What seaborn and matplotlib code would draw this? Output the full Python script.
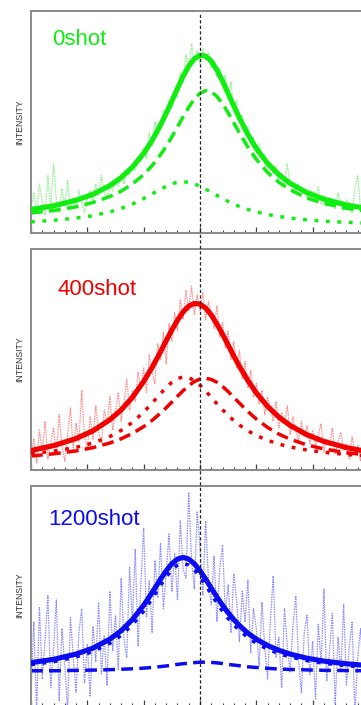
import numpy as np
import pandas as pd
import matplotlib
matplotlib.use("Agg")
import matplotlib.pyplot as plt
import seaborn as sns
from matplotlib.lines import Line2D
from matplotlib.ticker import MultipleLocator

sns.set_style("white")
plt.rcParams['font.family'] = ['Liberation Sans', 'DejaVu Sans']

# ---------------- data ----------------
PANEL_LABELS = ["0shot", "400shot", "1200shot"]
MAIN_COLORS = ["#10ee10", "#f20000", "#0c0cf0"]
NOISE_COLORS = ["#8ef08e", "#ff8c8c", "#8c8cff"]

# x positions of the fitted curves
FIT_X = [-3.0, -2.6, -2.2, -1.9, -1.6, -1.4, -1.2, -1.0, -0.85, -0.7, -0.6, -0.5, -0.4,
         -0.3, -0.2, -0.1, 0.0, 0.1, 0.2, 0.3, 0.4, 0.5, 0.6, 0.7, 0.85, 1.0, 1.2, 1.4,
         1.6, 1.9, 2.2, 2.6, 3.0]

# 0 shot
green_fit = [10.6, 12.2, 14.7, 17.4, 21.3, 24.9, 29.6, 35.8, 41.6, 48.6, 53.8, 59.3, 65.0,
             70.4, 75.0, 78.3, 79.9, 79.5, 77.2, 73.3, 68.3, 62.7, 57.1, 51.7, 44.3, 38.0,
             31.3, 26.2, 22.3, 18.1, 15.2, 12.6, 10.8]
green_comp1 = [9.0, 10.1, 11.8, 13.7, 16.4, 18.8, 22.0, 26.2, 30.3, 35.2, 39.0, 43.2, 47.7,
               52.2, 56.5, 60.2, 62.8, 64.0, 63.5, 61.4, 58.1, 54.0, 49.5, 44.9, 38.6, 33.1,
               27.2, 22.8, 19.4, 15.7, 13.3, 11.1, 9.6]
green_comp2 = [5.0, 5.7, 6.7, 7.8, 9.5, 11.0, 13.0, 15.5, 17.6, 19.7, 21.0, 22.1, 22.8,
               23.0, 22.8, 22.1, 21.0, 19.7, 18.3, 16.9, 15.5, 14.2, 13.0, 11.9, 10.6, 9.5,
               8.3, 7.4, 6.7, 5.9, 5.3, 4.8, 4.4]

# 400 shot
red_fit = [8.8, 11.0, 14.2, 17.7, 22.7, 27.1, 32.8, 40.0, 46.3, 53.4, 58.4, 63.2, 67.6,
           71.4, 74.0, 75.2, 74.9, 73.1, 70.0, 65.9, 61.3, 56.4, 51.5, 46.8, 40.4, 34.8,
           28.7, 23.9, 20.1, 15.9, 12.9, 10.1, 8.2]
red_comp1 = [6.3, 7.3, 8.6, 10.1, 12.2, 14.1, 16.5, 19.6, 22.4, 25.7, 28.1, 30.7, 33.3,
             35.8, 38.1, 39.9, 41.1, 41.4, 40.9, 39.6, 37.7, 35.4, 32.8, 30.2, 26.4, 23.0,
             19.2, 16.2, 13.9, 11.3, 9.5, 7.8, 6.7]
red_comp2 = [7.4, 8.5, 10.2, 12.2, 15.1, 17.9, 21.5, 26.1, 30.2, 34.5, 37.3, 39.6, 41.3,
             42.0, 41.7, 40.4, 38.3, 35.7, 32.8, 29.9, 27.2, 24.6, 22.3, 20.3, 17.7, 15.6,
             13.4, 11.7, 10.4, 9.0, 8.0, 7.0, 6.4]

# 1200 shot
blue_fit = [19.5, 21.0, 23.4, 26.1, 30.2, 34.0, 39.1, 45.6, 51.4, 57.5, 61.3, 64.5, 66.6,
            67.4, 66.6, 64.5, 61.3, 57.5, 53.4, 49.4, 45.6, 42.2, 39.1, 36.4, 32.9, 30.2,
            27.3, 25.1, 23.4, 21.5, 20.2, 19.0, 18.1]
blue_comp1 = [15.8, 15.8, 16.0, 16.1, 16.3, 16.5, 16.7, 17.0, 17.3, 17.7, 18.0, 18.3, 18.7,
              19.0, 19.3, 19.5, 19.7, 19.7, 19.6, 19.4, 19.1, 18.7, 18.4, 18.1, 17.6, 17.3,
              16.9, 16.6, 16.4, 16.2, 16.0, 15.9, 15.8]
blue_comp2 = [18.6, 19.9, 22.1, 24.5, 28.3, 31.9, 36.7, 42.9, 48.6, 54.7, 58.5, 61.7, 63.9,
              64.7, 63.9, 61.7, 58.5, 54.7, 50.6, 46.6, 42.9, 39.6, 36.7, 34.1, 30.9, 28.3,
              25.6, 23.6, 22.1, 20.4, 19.2, 18.1, 17.3]

# raw (noisy) spectra, sampled every 0.05 from -3 to 3
RAW_X = np.round(np.arange(-3.0, 3.0001, 0.05), 2)
green_raw = [12, 18, 9, 22, 14, 8, 26, 11, 31, 15, 9, 20, 12, 24, 10, 16, 11, 19, 13, 9,
             15, 19, 14, 22, 17, 26, 18, 16, 21, 19, 23, 21, 25, 22, 27, 26, 30, 28, 33, 32,
             38, 33, 45, 39, 50, 44, 47, 55, 52, 60, 56, 63, 61, 72, 68, 80, 74, 85, 77, 82,
             76, 83, 78, 81, 74, 77, 70, 74, 66, 71, 61, 68, 55, 60, 50, 53, 45, 48, 40, 43,
             36, 40, 33, 35, 29, 32, 27, 30, 24, 27, 22, 31, 21, 23, 19, 22, 18, 20, 16, 19,
             19, 15, 21, 13, 17, 12, 16, 14, 11, 18, 13, 10, 15, 12, 9, 20, 26, 11, 14, 9, 12]
red_raw = [6, 14, 3, 18, 9, 22, 5, 12, 19, 7, 25, 11, 4, 16, 28, 9, 21, 13, 36, 15,
           10, 24, 14, 29, 17, 12, 27, 21, 33, 18, 26, 35, 22, 30, 41, 27, 36, 31, 44, 37,
           46, 35, 52, 44, 39, 57, 50, 62, 48, 66, 58, 71, 63, 77, 68, 81, 72, 83, 70, 79,
           72, 80, 68, 76, 71, 64, 74, 60, 67, 55, 63, 50, 58, 46, 54, 41, 49, 37, 45, 33,
           39, 30, 36, 25, 33, 28, 22, 31, 19, 26, 21, 29, 16, 24, 18, 13, 22, 15, 20, 12,
           18, 10, 16, 21, 8, 14, 11, 19, 7, 13, 17, 9, 12, 5, 15, 8, 11, 4, 13, 7, 10]
blue_raw = [5, 38, -3, 45, 12, 30, 50, 8, 26, 48, 2, 35, 18, -2, 40, 22, 6, 33, 44, 10,
            28, 4, 36, 20, 47, 14, 32, 9, 52, 25, 41, 16, 58, 30, 22, 63, 38, 71, 27, 55,
            81, 40, 57, 33, 66, 49, 74, 44, 60, 78, 52, 69, 48, 84, 62, 58, 97, 66, 53, 88,
            72, 50, 84, 57, 46, 68, 38, 62, 73, 42, 55, 33, 60, 48, 29, 52, 38, 57, 24, 44,
            35, 18, 47, 26, 12, 39, 59, 22, 31, 8, 44, 27, 15, 36, 50, 20, 6, 33, 41, 14,
            29, 3, 37, 19, 53, 11, 25, 42, 0, 31, 16, 46, 9, 27, 38, -4, 22, 35, 12, 30, 7]

PANELS = [
    (green_raw, green_fit, green_comp1, green_comp2),
    (red_raw, red_fit, red_comp1, red_comp2),
    (blue_raw, blue_fit, blue_comp1, blue_comp2),
]

# ---------------- layout ----------------
W, H = 361, 705
fig = plt.figure(figsize=(W / 100, H / 100), dpi=100)
left_px, width_px = 31, 338
boxes = [(10.5, 233.0), (248.5, 470.0), (485.7, 705.5)]  # top, bottom in px
label_pos = [(0.062, 0.845), (0.077, 0.79), (0.05, 0.823)]

axes = []
for i, (top, bot) in enumerate(boxes):
    ax = fig.add_axes([left_px / W, (H - bot) / H, width_px / W, (bot - top) / H])
    axes.append(ax)
    raw, fit, c1, c2 = PANELS[i]
    col, ncol = MAIN_COLORS[i], NOISE_COLORS[i]

    sns.lineplot(x=RAW_X, y=raw, ax=ax, color=ncol, linewidth=0.9,
                 linestyle=(0, (1.2, 0.8)), sort=False, errorbar=None, zorder=1)
    sns.lineplot(x=FIT_X, y=c1, ax=ax, color=col, linewidth=2.5,
                 linestyle=(0, (3.4, 1.8)), sort=False, errorbar=None, zorder=2)
    sns.lineplot(x=FIT_X, y=c2, ax=ax, color=col, linewidth=2.5,
                 linestyle=(0, (1.1, 2.2)), sort=False, errorbar=None, zorder=3)
    sns.lineplot(x=FIT_X, y=fit, ax=ax, color=col, linewidth=3.7,
                 linestyle="-", sort=False, errorbar=None, zorder=4)

    ax.set_xlim(-3, 3)
    ax.set_ylim(0, 100)
    ax.set_xlabel("")
    ax.set_ylabel("")
    ax.xaxis.set_major_locator(MultipleLocator(1.0))
    ax.xaxis.set_minor_locator(MultipleLocator(0.2))
    ax.tick_params(axis="x", which="major", direction="in", length=4, width=0.9,
                   color="#444444", labelbottom=False, bottom=True)
    ax.tick_params(axis="x", which="minor", direction="in", length=2.2, width=0.8,
                   color="#444444", bottom=True)
    ax.tick_params(axis="y", which="both", left=False, labelleft=False)
    for s in ax.spines.values():
        s.set_color("#8a8a8a")
        s.set_linewidth(1.4)
        s.set_visible(True)

    ax.text(label_pos[i][0], label_pos[i][1], PANEL_LABELS[i], transform=ax.transAxes,
            color=col, fontsize=16, ha="left", va="baseline")
    ax.text(-0.0325, 0.5, "INTENSITY", transform=ax.transAxes, rotation=90,
            ha="center", va="center", fontsize=6.3, color="#333333")

# vertical reference line through all panels at x = 0
disp = axes[0].transData.transform((0, 0))
xf = fig.transFigure.inverted().transform(disp)[0]
top_f = (H - 14) / H
fig.add_artist(Line2D([xf, xf], [0, top_f], transform=fig.transFigure, color="#222222",
                      linewidth=0.9, linestyle=(0, (2.6, 1.8)), zorder=10))

fig.savefig("out.png", dpi=100)
